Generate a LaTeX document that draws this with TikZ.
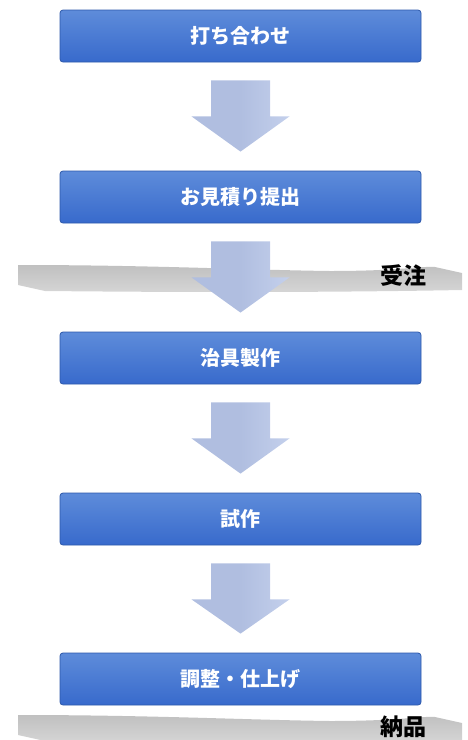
\documentclass[tikz,border=0pt]{standalone}
\usepackage{fontspec}
\newfontfamily\jp{Noto Sans CJK JP}
\usetikzlibrary{calc}
\definecolor{boxtop}{RGB}{94,140,218}
\definecolor{boxbot}{RGB}{56,106,204}
\definecolor{boxedge}{RGB}{44,88,170}
\definecolor{arrowfill}{RGB}{176,190,224}
\definecolor{arrowlight}{RGB}{196,208,236}
\definecolor{ribtop}{RGB}{192,192,192}
\definecolor{ribbot}{RGB}{214,214,214}
\tikzset{
  stepbox/.style={draw=boxedge, line width=0.8pt, rounded corners=3pt,
    top color=boxtop, bottom color=boxbot,
    minimum width=361pt, minimum height=52pt, inner sep=0pt,
    text=white, font=\jp\bfseries\fontsize{20}{22}\selectfont},
  bigarrow/.style={left color=arrowfill, right color=arrowlight, middle color=arrowfill},
  ribbon/.style={top color=ribtop, bottom color=ribbot},
  milestone/.style={font=\jp\bfseries\fontsize{23}{26}\selectfont, text=black, inner sep=0pt}
}
\begin{document}
\begin{tikzpicture}[x=1pt,y=1pt]
\useasboundingbox (0,0) rectangle (467,-740);
% ribbons
\path[ribbon] (18,-265) .. controls (150,-265) and (250,-270) .. (330,-271)
  .. controls (400,-271) and (420,-266) .. (435,-267) -- (462,-273) -- (462,-290)
  .. controls (300,-293) and (150,-292) .. (45,-291) -- (18,-285) -- cycle;
\path[ribbon] (18,-715) .. controls (150,-715) and (250,-720) .. (330,-721)
  .. controls (400,-721) and (420,-716) .. (435,-717) -- (462,-723) -- (462,-740)
  .. controls (300,-743) and (150,-742) .. (45,-741) -- (18,-735) -- cycle;
% boxes
\node[stepbox] (b1) at (240.5,-36) {打ち合わせ};
\node[stepbox] (b2) at (240.5,-197) {お見積り提出};
\node[stepbox] (b3) at (240.5,-358) {治具製作};
\node[stepbox] (b4) at (240.5,-519) {試作};
\node[stepbox] (b5) at (240.5,-679) {調整・仕上げ};
% arrows
\foreach \a/\b in {b1/b2,b2/b3,b3/b4,b4/b5}{
  \path[bigarrow] ($(\a.south)+(-29.5,-18)$) -- ($(\a.south)+(29.5,-18)$)
    -- ($(\a.south)+(29.5,-54)$) -- ($(\a.south)+(49,-54)$)
    -- ($(\b.north)+(0,19)$) -- ($(\a.south)+(-49,-54)$)
    -- ($(\a.south)+(-29.5,-54)$) -- cycle;
}
% milestones
\node[milestone] (m1) at (403,-276) {受注};
\node[milestone] (m2) at (403,-727) {納品};
\end{tikzpicture}
\end{document}
